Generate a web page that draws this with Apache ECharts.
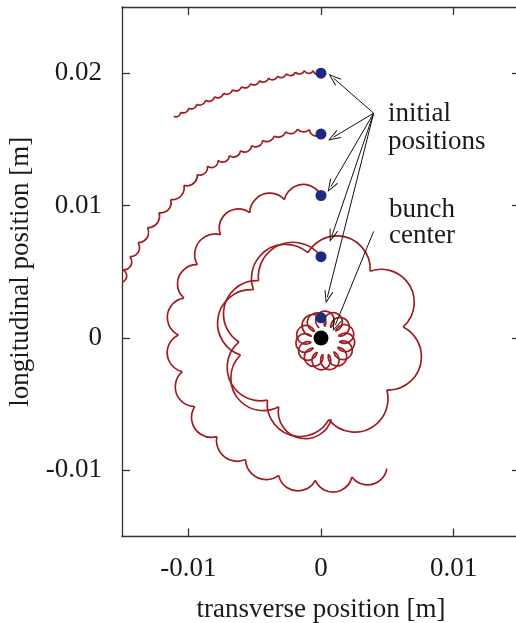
<!DOCTYPE html>
<html><head><meta charset="utf-8">
<script src="https://cdn.jsdelivr.net/npm/echarts@6/dist/echarts.min.js"></script>
<style>html,body{margin:0;padding:0;background:#fff}#c{width:516px;height:623px}</style>
</head><body><div id="c"></div><script>
// All trajectory values are in millimetres; the axes are in metres.
const xTicks = [-0.01, 0, 0.01];
const yTicks = [-0.01, 0, 0.01, 0.02];

const startDots = [[0, 20.0], [0, 15.4], [0, 10.76], [0, 6.14], [0, 1.52]];
const bunchCenter = [[0, 0]];

// Each trajectory: the cusps where the arcs meet, and one crest point on every arc in between.
// trajectory 1 (outermost)
const traj1Cusps = [[0, 20.0], [-0.58, 20.19], [-1.25, 20.19], [-1.93, 20.08], [-2.61, 19.96], [-3.28, 19.77], [-3.96, 19.62], [-4.64, 19.43], [-5.31, 19.20], [-5.99, 18.98], [-6.67, 18.75], [-7.34, 18.48], [-8.02, 18.22], [-8.70, 17.95], [-9.37, 17.65], [-9.98, 17.35], [-10.58, 17.05], [-11.10, 16.74]];
const traj1Crests = [[-0.26, 19.90], [-0.92, 19.99], [-1.59, 19.94], [-2.27, 19.82], [-2.95, 19.67], [-3.62, 19.50], [-4.30, 19.33], [-4.98, 19.12], [-5.62, 18.90], [-6.28, 18.68], [-6.95, 18.43], [-7.62, 18.17], [-8.30, 17.90], [-8.98, 17.62], [-9.62, 17.33], [-10.23, 17.03], [-10.79, 16.72]];

// trajectory 2
const traj2Cusps = [[0, 15.4], [-0.86, 15.73], [-1.76, 15.77], [-2.66, 15.57], [-3.52, 15.26], [-4.39, 14.92], [-5.23, 14.53], [-6.07, 14.14], [-6.92, 13.77], [-7.76, 13.41], [-8.57, 12.98], [-9.32, 12.35], [-10.33, 11.52], [-11.33, 10.45], [-12.21, 9.47], [-13.08, 8.33], [-13.79, 7.20], [-14.41, 6.14], [-14.92, 5.15], [-15.16, 4.17]];
const traj2Crests = [[-0.41, 15.25], [-1.29, 15.56], [-2.18, 15.44], [-3.04, 15.19], [-3.89, 14.86], [-4.73, 14.47], [-5.55, 14.08], [-6.37, 13.71], [-7.19, 13.33], [-8.01, 12.93], [-8.77, 12.42], [-9.61, 11.67], [-10.56, 10.72], [-11.48, 9.72], [-12.34, 8.68], [-13.10, 7.58], [-13.75, 6.51], [-14.31, 5.51], [-14.67, 4.55]];

// trajectory 3
const traj3Cusps = [[0, 10.76], [-2.76, 10.45], [-5.37, 9.45], [-7.57, 7.80], [-9.32, 5.53], [-10.33, 3.01], [-10.75, 0.23], [-10.45, -2.55], [-9.52, -5.19], [-7.85, -7.46], [-5.69, -9.19], [-3.19, -10.38], [-0.43, -10.76], [2.33, -10.51], [4.96, -9.87]];
const traj3Crests = [[-1.33, 11.59], [-4.30, 10.87], [-6.82, 9.62], [-9.15, 7.31], [-10.73, 4.58], [-11.58, 1.67], [-11.59, -1.21], [-10.92, -4.13], [-9.41, -6.97], [-7.12, -9.09], [-4.67, -10.61], [-1.85, -11.55], [0.93, -11.64], [3.41, -11.10]];

// trajectory 4 (large flower, a little more than one turn)
const traj4Cusps = [[0, 6.14], [-4.71, 4.32], [-6.18, -0.30], [-4.04, -4.70], [0.59, -6.17], [4.96, -3.94], [6.19, 0.83], [3.71, 5.04], [-0.99, 6.44], [-5.09, 3.64], [-6.07, -1.29], [-3.19, -5.20], [0.78, -6.14]];
const traj4Crests = [[-3.00, 7.07], [-7.35, 1.90], [-6.79, -3.39], [-2.27, -7.35], [3.70, -6.83], [7.47, -2.13], [6.74, 3.86], [1.75, 7.65], [-4.04, 6.68], [-7.80, 1.15], [-6.38, -4.41], [-1.23, -7.61]];

// trajectory 5 (small flower round the bunch centre, about two turns)
const traj5Cusps = [[0, 1.52], [-0.69, 0.11], [-0.58, -0.74], [0.12, -1.24], [0.96, -1.04], [1.37, -0.29], [1.09, 0.52], [0.30, 0.86], [-0.48, 0.49], [-0.73, -0.33], [-0.29, -1.06], [0.56, -1.23], [1.24, -0.71], [1.32, 0.14], [0.73, 0.77], [-0.13, 0.76]];
const traj5Crests = [[-1.36, 1.26], [-1.89, -0.47], [-0.96, -2.02], [0.82, -2.37], [2.27, -1.28], [2.43, 0.53], [1.19, 1.85], [-0.62, 1.82], [-1.81, 0.45], [-1.59, -1.35], [-0.11, -2.39], [1.66, -1.98], [2.54, -0.39], [1.95, 1.32], [0.28, 2.03]];

// annotation arrows (mm): tail -> head
const arrowTails = [[3.97, 16.98], [3.97, 16.98], [3.97, 16.98], [3.97, 16.98], [3.97, 16.98], [3.97, 8.05]];
const arrowHeads = [[0.95, 19.62], [0.95, 15.17], [0.75, 11.44], [0.82, 7.72], [0.48, 3.08], [1.08, 0.97]];

const MM = 0.001;
const toM = p => [p[0] * MM, p[1] * MM];
// one data item per arc: start cusp, crest, end cusp
function arcItems(cusps, crests) {
  return crests.map((c, i) => toM(cusps[i]).concat(toM(c), toM(cusps[i + 1])));
}

const RED = '#a01c20';
const TXT = '#1a1a1a';
const FONT = 'Liberation Serif';

// draws each item as the circular arc through its three points, in pixel space
function renderArc(params, api) {
  const a = api.coord([api.value(0), api.value(1)]);
  const m = api.coord([api.value(2), api.value(3)]);
  const b = api.coord([api.value(4), api.value(5)]);
  const style = { stroke: RED, lineWidth: 1.7, fill: 'none' };
  const d = 2 * (a[0] * (m[1] - b[1]) + m[0] * (b[1] - a[1]) + b[0] * (a[1] - m[1]));
  if (Math.abs(d) < 1e-6) {
    return { type: 'polyline', shape: { points: [a, m, b] }, style: style };
  }
  const sa = a[0] * a[0] + a[1] * a[1];
  const sm = m[0] * m[0] + m[1] * m[1];
  const sb = b[0] * b[0] + b[1] * b[1];
  const ux = (sa * (m[1] - b[1]) + sm * (b[1] - a[1]) + sb * (a[1] - m[1])) / d;
  const uy = (sa * (b[0] - m[0]) + sm * (a[0] - b[0]) + sb * (m[0] - a[0])) / d;
  const r = Math.hypot(a[0] - ux, a[1] - uy);
  const cross = (b[0] - a[0]) * (m[1] - a[1]) - (b[1] - a[1]) * (m[0] - a[0]);
  return {
    type: 'arc',
    shape: {
      cx: ux, cy: uy, r: r,
      startAngle: Math.atan2(a[1] - uy, a[0] - ux),
      endAngle: Math.atan2(b[1] - uy, b[0] - ux),
      clockwise: cross < 0
    },
    style: style
  };
}
function trajSeries(cusps, crests) {
  return {
    type: 'custom', data: arcItems(cusps, crests), renderItem: renderArc,
    encode: { x: [0, 2, 4], y: [1, 3, 5] }, clip: true, silent: true, z: 2
  };
}

const chart = echarts.init(document.getElementById('c'), null, { renderer: 'canvas' });
const axisCommon = {
  type: 'value', splitLine: { show: false },
  axisLine: { show: true, onZero: false, lineStyle: { color: '#333', width: 1.3 } }
};
const tickStyle = { color: '#333', width: 1.3 };
const chevron = 'path://M0,0 L5,13 L4,13.6 L0,2.8 L-4,13.6 L-5,13 Z';

chart.setOption({
  animation: false,
  backgroundColor: '#fff',
  grid: { left: 122, top: 7, width: 398, height: 529.5, containLabel: false, outerBoundsMode: 'none' },
  xAxis: [
    Object.assign({}, axisCommon, {
      min: -0.015, max: 0.015, position: 'bottom',
      axisTick: { show: true, inside: true, length: 8, customValues: xTicks, lineStyle: tickStyle },
      axisLabel: { customValues: xTicks, formatter: v => String(v), margin: 19, fontFamily: FONT, fontSize: 27, color: TXT },
      name: 'transverse position [m]', nameLocation: 'middle', nameGap: 60,
      nameTextStyle: { fontFamily: FONT, fontSize: 27, color: TXT }
    }),
    Object.assign({}, axisCommon, {
      min: -0.015, max: 0.015, position: 'top',
      axisTick: { show: true, inside: true, length: 8, customValues: xTicks, lineStyle: tickStyle },
      axisLabel: { show: false }
    })
  ],
  yAxis: [
    Object.assign({}, axisCommon, {
      min: -0.015, max: 0.025, position: 'left',
      axisTick: { show: true, inside: true, length: 8, customValues: yTicks, lineStyle: tickStyle },
      axisLabel: { customValues: yTicks, formatter: v => String(v), margin: 20, fontFamily: FONT, fontSize: 27, color: TXT },
      name: 'longitudinal position [m]', nameLocation: 'middle', nameGap: 76, nameRotate: 90,
      nameTextStyle: { fontFamily: FONT, fontSize: 27, color: TXT }
    }),
    Object.assign({}, axisCommon, {
      min: -0.015, max: 0.025, position: 'right',
      axisTick: { show: true, inside: true, length: 8, customValues: yTicks, lineStyle: tickStyle },
      axisLabel: { show: false }
    })
  ],
  series: [
    trajSeries(traj1Cusps, traj1Crests),
    trajSeries(traj2Cusps, traj2Crests),
    trajSeries(traj3Cusps, traj3Crests),
    trajSeries(traj4Cusps, traj4Crests),
    trajSeries(traj5Cusps, traj5Crests),
    {
      type: 'scatter', data: startDots.map(toM), symbolSize: 11, z: 5, silent: true,
      itemStyle: { color: '#1e2a7c', opacity: 1 }
    },
    {
      type: 'scatter', data: bunchCenter.map(toM), symbolSize: 15, z: 5, silent: true,
      itemStyle: { color: '#000', opacity: 1 }
    },
    {
      type: 'line', data: [], z: 6, silent: true,
      markLine: {
        silent: true, animation: false,
        symbol: ['none', chevron], symbolSize: [9, 13],
        label: { show: false },
        emphasis: { disabled: true },
        lineStyle: { color: '#111', width: 1, type: 'solid' },
        data: arrowTails.map((t, i) => [{ coord: toM(t) }, { coord: toM(arrowHeads[i]) }])
      }
    }
  ],
  graphic: [
    { type: 'text', x: 388, y: 114, style: { text: 'initial', fontFamily: FONT, fontSize: 27, fill: TXT, align: 'left', verticalAlign: 'middle' } },
    { type: 'text', x: 388, y: 141.5, style: { text: 'positions', fontFamily: FONT, fontSize: 27, fill: TXT, align: 'left', verticalAlign: 'middle' } },
    { type: 'text', x: 389, y: 209.5, style: { text: 'bunch', fontFamily: FONT, fontSize: 27, fill: TXT, align: 'left', verticalAlign: 'middle' } },
    { type: 'text', x: 389, y: 236, style: { text: 'center', fontFamily: FONT, fontSize: 27, fill: TXT, align: 'left', verticalAlign: 'middle' } }
  ]
});
</script></body></html>
